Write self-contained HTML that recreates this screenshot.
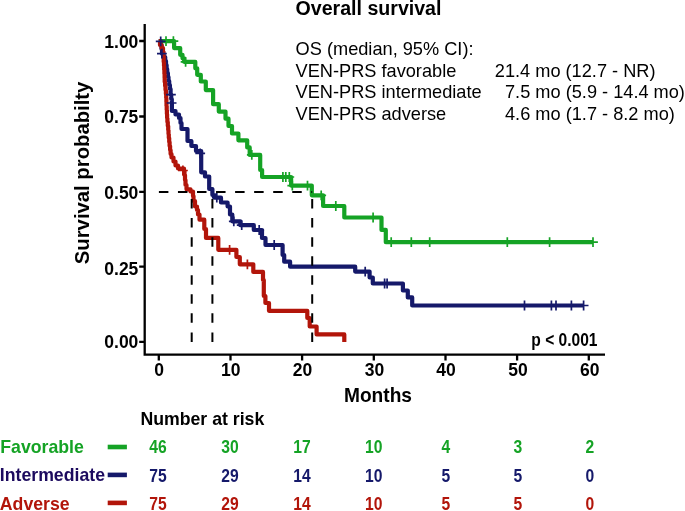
<!DOCTYPE html>
<html><head><meta charset="utf-8">
<style>
html,body{margin:0;padding:0;background:#fff;}
body{width:685px;height:511px;overflow:hidden;}
svg{display:block;will-change:transform;}
text{font-family:"Liberation Sans",sans-serif;}
.b{font-weight:bold;}
</style></head><body>
<svg width="685" height="511" viewBox="0 0 685 511">
<text class="b" x="295.5" y="15" font-size="19.6">Overall survival</text>
<g font-size="18.2">
<text x="295.6" y="54.9">OS (median, 95% CI):</text>
<text x="295.6" y="76.9">VEN-PRS favorable</text>
<text x="295.6" y="98.4">VEN-PRS intermediate</text>
<text x="295.6" y="119.6">VEN-PRS adverse</text>
<text x="494.8" y="76.9">21.4 mo (12.7 - NR)</text>
<text x="505" y="98.4">7.5 mo (5.9 - 14.4 mo)</text>
<text x="505" y="119.6">4.6 mo (1.7 - 8.2 mo)</text>
</g>
<g stroke="#000" stroke-width="2.3" fill="none">
<path d="M144.7,24 V354.7 H605"/>
<path d="M139.2,41.0 H144.7 M139.2,116.5 H144.7 M139.2,191.8 H144.7 M139.2,266.6 H144.7 M139.2,341.9 H144.7"/>
<path d="M158.8,354.7 V360.5 M230.5,354.7 V360.5 M302.1,354.7 V360.5 M373.8,354.7 V360.5 M445.5,354.7 V360.5 M517.1,354.7 V360.5 M588.8,354.7 V360.5"/>
</g>
<g class="b" font-size="17.5" text-anchor="end">
<text x="138.35" y="47.95">1.00</text>
<text x="138.35" y="123.05">0.75</text>
<text x="138.35" y="199.25">0.50</text>
<text x="138.35" y="275.00">0.25</text>
<text x="138.35" y="348.25">0.00</text>
</g>
<g class="b" font-size="17.5" text-anchor="middle">
<text x="159.0" y="375.6">0</text>
<text x="230.8" y="375.6">10</text>
<text x="302.6" y="375.6">20</text>
<text x="374.4" y="375.6">30</text>
<text x="446.1" y="375.6">40</text>
<text x="517.9" y="375.6">50</text>
<text x="589.7" y="375.6">60</text>
</g>
<text class="b" x="344" y="401.6" font-size="20.4" textLength="68" lengthAdjust="spacingAndGlyphs">Months</text>
<text class="b" font-size="20.3" transform="translate(89.0,264.2) rotate(-90)">Survival probabilty</text>
<text class="b" font-size="17.5" text-anchor="end" transform="translate(597.5,346) scale(0.89,1)">p &lt; 0.001</text>
<text class="b" x="140.4" y="424.9" font-size="17.7">Number at risk</text>
<g class="b" font-size="17.7">
<text x="0.3" y="453.3" fill="#15a325">Favorable</text>
<text x="-0.2" y="481.4" fill="#1c0a5e">Intermediate</text>
<text x="-0.2" y="509.9" fill="#b2150a">Adverse</text>
</g>
<rect x="107.7" y="444.7" width="19.2" height="4.6" fill="#15a325"/>
<rect x="107.7" y="472.6" width="19.2" height="4.6" fill="#15196a"/>
<rect x="107.7" y="500.6" width="19.2" height="4.6" fill="#b2150a"/>
<g class="b" font-size="17.7" text-anchor="middle">
<g fill="#15a325">
<text transform="translate(157.9,453.3) scale(0.885,1)">46</text>
<text transform="translate(229.9,453.3) scale(0.885,1)">30</text>
<text transform="translate(301.9,453.3) scale(0.885,1)">17</text>
<text transform="translate(373.8,453.3) scale(0.885,1)">10</text>
<text transform="translate(445.8,453.3) scale(0.885,1)">4</text>
<text transform="translate(517.8,453.3) scale(0.885,1)">3</text>
<text transform="translate(589.8,453.3) scale(0.885,1)">2</text>
</g>
<g fill="#15196a">
<text transform="translate(157.9,481.5) scale(0.885,1)">75</text>
<text transform="translate(229.9,481.5) scale(0.885,1)">29</text>
<text transform="translate(301.9,481.5) scale(0.885,1)">14</text>
<text transform="translate(373.8,481.5) scale(0.885,1)">10</text>
<text transform="translate(445.8,481.5) scale(0.885,1)">5</text>
<text transform="translate(517.8,481.5) scale(0.885,1)">5</text>
<text transform="translate(589.8,481.5) scale(0.885,1)">0</text>
</g>
<g fill="#b2150a">
<text transform="translate(157.9,510.0) scale(0.885,1)">75</text>
<text transform="translate(229.9,510.0) scale(0.885,1)">29</text>
<text transform="translate(301.9,510.0) scale(0.885,1)">14</text>
<text transform="translate(373.8,510.0) scale(0.885,1)">10</text>
<text transform="translate(445.8,510.0) scale(0.885,1)">5</text>
<text transform="translate(517.8,510.0) scale(0.885,1)">5</text>
<text transform="translate(589.8,510.0) scale(0.885,1)">0</text>
</g>
</g>
<path d="M158.8,41.2 H174.1 V48.1 H180.2 V54.8 H182.5 V58.3 H184.1 V61.8 H195.3 V68.3 H197.2 V74.8 H200.8 V81.5 H205.8 V90.1 H213.1 V104.2 H218.8 V111.6 H225.5 V118.7 H228.5 V126 H232 V133.5 H238.4 V140.3 H247.2 V147.4 H249.7 V154.9 H260.2 V170 H262.1 V177 H291.1 V185.6 H311.8 V195.3 H323.1 V206 H344.3 V217.5 H381.5 V229.9 H385.8 V242.2 H593" stroke="#15a325" stroke-width="4.2" fill="none" stroke-linejoin="round" stroke-linecap="butt"/>
<path d="M161.1,41.2 h9.8 M166.0,36.3 v9.8 M168.5,41.2 h9.8 M173.4,36.3 v9.8 M180.7,61.8 h9.8 M185.6,56.9 v9.8 M246.9,154.9 h9.8 M251.8,150.0 v9.8 M278.0,177.0 h9.8 M282.9,172.1 v9.8 M280.9,177.0 h9.8 M285.8,172.1 v9.8 M284.4,177.0 h9.8 M289.3,172.1 v9.8 M287.4,185.6 h9.8 M292.3,180.7 v9.8 M302.6,185.6 h9.8 M307.5,180.7 v9.8 M316.3,195.3 h9.8 M321.2,190.4 v9.8 M330.9,206.0 h9.8 M335.8,201.1 v9.8 M368.2,217.5 h9.8 M373.1,212.6 v9.8 M386.3,242.2 h9.8 M391.2,237.3 v9.8 M406.4,242.2 h9.8 M411.3,237.3 v9.8 M424.8,242.2 h9.8 M429.7,237.3 v9.8 M502.4,242.2 h9.8 M507.3,237.3 v9.8 M544.7,242.2 h9.8 M549.6,237.3 v9.8 M588.1,242.2 h9.8 M593.0,237.3 v9.8" stroke="#15a325" stroke-width="1.7" fill="none"/>
<path d="M158.8,41.0 H160.5 V45.0 H161.5 V49.0 H162.0 V53.7 H163.5 V57.0 H165.2 V61.0 H166.0 V65.0 H166.6 V69.0 H167.2 V73.0 H167.9 V77.0 H168.5 V81.0 H169.2 V85.0 H169.9 V89.0 H170.6 V94.7 H171.2 V99.0 H171.8 V103.0 H171.9 V111.0 H175.5 V114.5 H179.0 V118.0 H180.5 V123.0 H181.5 V129.0 H187.5 V141.0 H191.4 V146.0 H196.0 V151.0 H201.2 V172.3 H205.0 V176.5 H209.2 V189.0 H212.4 V195.0 H214.5 V197.7 H221.0 V202.5 H227.6 V206.5 H230.0 V214.5 H232.3 V221.3 H240.3 V225.2 H253.8 V230.0 H262.0 V238.0 H265.5 V245.0 H282.6 V255.0 H284.2 V261.7 H290.1 V266.7 H355.2 V271.6 H369.6 V277.5 H372.8 V283.5 H402.9 V290.5 H407.8 V297.4 H412.2 V305.5 H583.6" stroke="#15196a" stroke-width="4.2" fill="none" stroke-linejoin="round" stroke-linecap="butt"/>
<path d="M158.8,41.0 H160.0 V45.0 H161.6 V48.0 H163.0 V51.5 H163.5 V56.0 H163.7 V62.0 H164.0 V66.0 H164.2 V70.0 H164.4 V74.0 H164.6 V78.0 H164.7 V82.0 H165.1 V86.0 H165.5 V90.0 H165.9 V94.0 H166.2 V98.0 H166.4 V102.0 H166.5 V106.0 H166.7 V110.0 H166.9 V114.0 H167.1 V118.0 H167.4 V122.0 H167.8 V126.0 H168.2 V130.0 H168.5 V134.0 H168.8 V138.0 H169.2 V142.0 H169.6 V146.0 H170.1 V150.0 H170.6 V154.0 H171.5 V157.5 H173.5 V161.5 H175.5 V165.5 H178.0 V168.5 H184.0 V170.5 H184.5 V175.0 H185.0 V180.0 H185.5 V185.0 H186.5 V189.3 H190.5 V191.5 H193.0 V196.0 H193.5 V201.0 H195.0 V206.5 H197.0 V210.0 H198.0 V214.5 H199.5 V219.7 H204.3 V229.0 H206.0 V237.9 H218.3 V249.8 H236.4 V257.0 H239.8 V264.3 H253.3 V271.9 H263.0 V280.0 H263.8 V296.0 H265.4 V303.0 H269.0 V310.8 H307.3 V318.0 H309.7 V326.5 H316.6 V334.4 H344.3 V341.9" stroke="#b2150a" stroke-width="4.2" fill="none" stroke-linejoin="round" stroke-linecap="butt"/>
<path d="M155.8,41.4 h9.8 M160.7,36.5 v9.8 M157.0,53.7 h9.8 M161.9,48.8 v9.8 M166.0,94.7 h9.8 M170.9,89.8 v9.8 M166.7,103.0 h9.8 M171.6,98.1 v9.8 M195.3,153.3 h9.8 M200.2,148.4 v9.8 M211.9,197.7 h9.8 M216.8,192.8 v9.8 M228.9,221.3 h9.8 M233.8,216.4 v9.8 M236.8,225.2 h9.8 M241.7,220.3 v9.8 M254.3,230.0 h9.8 M259.2,225.1 v9.8 M269.3,245.0 h9.8 M274.2,240.1 v9.8 M360.3,271.6 h9.8 M365.2,266.7 v9.8 M379.7,283.5 h9.8 M384.6,278.6 v9.8 M382.2,283.5 h9.8 M387.1,278.6 v9.8 M519.6,305.5 h9.8 M524.5,300.6 v9.8 M546.5,305.5 h9.8 M551.4,300.6 v9.8 M551.1,305.5 h9.8 M556.0,300.6 v9.8 M566.5,305.5 h9.8 M571.4,300.6 v9.8 M578.7,305.5 h9.8 M583.6,300.6 v9.8" stroke="#15196a" stroke-width="1.7" fill="none"/>
<path d="M178.0,170.5 h9.8 M182.9,165.6 v9.8 M224.7,249.8 h9.8 M229.6,244.9 v9.8 M242.5,264.3 h9.8 M247.4,259.4 v9.8" stroke="#b2150a" stroke-width="1.7" fill="none"/>
<g fill="none" stroke="#000" stroke-width="2" stroke-dasharray="9.5 9.55">
<path d="M158.9,191.9 H312.2"/>
<path d="M191.7,341.9 V191.9 M212.4,341.9 V191.9 M312.2,341.9 V191.9"/>
</g>
</svg>
</body></html>
